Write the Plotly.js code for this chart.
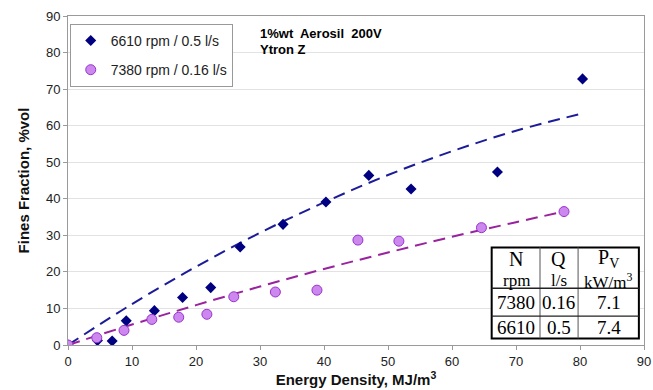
<!DOCTYPE html>
<html>
<head>
<meta charset="utf-8">
<script src="https://cdn.plot.ly/plotly-3.0.1.min.js"></script>
<style>
  html, body { margin: 0; padding: 0; background: #fff; }
  #chart { width: 653px; height: 390px; }
</style>
</head>
<body>
<div id="chart"></div>
<script>
// Measured fines fraction against energy density, two rotor settings
const energy6610 = [0, 4.6, 6.9, 9.1, 13.5, 17.9, 22.3, 26.9, 33.6, 40.3, 47.0, 53.6, 67.1, 80.4];
const fines6610  = [0, 1.2, 1.1, 6.6, 9.4, 13.0, 15.7, 26.8, 33.0, 39.1, 46.4, 42.7, 47.3, 72.8];

const energy7380 = [0, 4.5, 8.75, 13.1, 17.3, 21.7, 25.9, 32.4, 38.9, 45.3, 51.7, 64.6, 77.5];
const fines7380  = [0, 2.0, 4.0, 7.0, 7.6, 8.4, 13.2, 14.5, 15.0, 28.7, 28.4, 32.1, 36.5];

// Trend curves, sampled along the dashed lines
const trendX6610 = [0, 10, 20, 30, 40, 50, 60, 70, 80.5];
const trendY6610 = [0, 11.2, 21.4, 30.7, 39.0, 46.5, 53.0, 58.6, 63.4];
const trendX7380 = [0, 10, 20, 30, 40, 50, 60, 70, 77.5];
const trendY7380 = [0, 5.6, 10.9, 16.0, 20.8, 25.3, 29.6, 33.6, 36.5];

// Operating conditions table
const tableHeader1 = ['N', 'Q', 'P<sub>V</sub>'];
const tableHeader2 = ['rpm', 'l/s', 'kW/m<sup>3</sup>'];
const tableRows = [
  ['7380', '0.16', '7.1'],
  ['6610', '0.5', '7.4']
];

const xTicks = [0, 10, 20, 30, 40, 50, 60, 70, 80, 90];
const yTicks = [0, 10, 20, 30, 40, 50, 60, 70, 80, 90];

const blue = '#000080';
const violetFill = '#cc88ee';
const violetEdge = '#9933cc';
const purpleLine = '#99229f';
const sans = 'Arial, Liberation Sans, sans-serif';

const traces = [
  {
    x: trendX6610, y: trendY6610, mode: 'lines', type: 'scatter',
    line: { color: '#1c1c99', width: 2, dash: '12px,7px', shape: 'spline' },
    showlegend: false, hoverinfo: 'skip'
  },
  {
    x: trendX7380, y: trendY7380, mode: 'lines', type: 'scatter',
    line: { color: purpleLine, width: 2, dash: '12px,7px', shape: 'spline' },
    showlegend: false, hoverinfo: 'skip'
  },
  {
    x: energy6610, y: fines6610, mode: 'markers', type: 'scatter',
    name: '6610 rpm / 0.5 l/s', legendgroup: 'a',
    marker: { symbol: 'diamond', size: 8.5, color: blue }
  },
  {
    x: energy7380, y: fines7380, mode: 'markers', type: 'scatter',
    name: '7380 rpm / 0.16 l/s', legendgroup: 'b',
    marker: { symbol: 'circle', size: 10, color: violetFill, line: { color: violetEdge, width: 1 } }
  }
];

// Table geometry in data units
const tX = [66.2, 73.75, 79.7, 89.2];
const tY = { top: 26.7, head: 15.5, mid: 7.9, bottom: 1.8 };
const colMid = [70.0, 76.7, 84.5];
const serif = 'Liberation Serif, Times New Roman, serif';

const shapes = [
  { type: 'rect', xref: 'x', yref: 'y', x0: tX[0], x1: tX[3], y0: tY.bottom, y1: tY.top,
    fillcolor: '#ffffff', line: { color: '#000', width: 2 }, layer: 'above' },
  { type: 'line', xref: 'x', yref: 'y', x0: tX[1], x1: tX[1], y0: tY.bottom, y1: tY.top,
    line: { color: '#555', width: 1 }, layer: 'above' },
  { type: 'line', xref: 'x', yref: 'y', x0: tX[2], x1: tX[2], y0: tY.bottom, y1: tY.top,
    line: { color: '#555', width: 1 }, layer: 'above' },
  { type: 'line', xref: 'x', yref: 'y', x0: tX[0], x1: tX[3], y0: tY.head, y1: tY.head,
    line: { color: '#222', width: 1.5 }, layer: 'above' },
  { type: 'line', xref: 'x', yref: 'y', x0: tX[0], x1: tX[3], y0: tY.mid, y1: tY.mid,
    line: { color: '#222', width: 1.2 }, layer: 'above' }
];

const annotations = [
  { xref: 'paper', yref: 'paper', x: 0.33, y: 0.948, xanchor: 'left', yanchor: 'middle',
    text: '<b>1%wt  Aerosil  200V</b>', showarrow: false,
    font: { family: sans, size: 13, color: '#000' } },
  { xref: 'paper', yref: 'paper', x: 0.33, y: 0.897, xanchor: 'left', yanchor: 'middle',
    text: '<b>Ytron Z</b>', showarrow: false,
    font: { family: sans, size: 13, color: '#000' } }
];

tableHeader1.forEach((t, i) => annotations.push({
  xref: 'x', yref: 'y', x: colMid[i], y: 23.6, text: t, showarrow: false,
  xanchor: 'center', yanchor: 'middle', font: { family: serif, size: 20, color: '#000' }
}));
tableHeader2.forEach((t, i) => annotations.push({
  xref: 'x', yref: 'y', x: colMid[i], y: 17.6, text: t, showarrow: false,
  xanchor: 'center', yanchor: 'middle', font: { family: serif, size: 17, color: '#000' }
}));
const rowY = [11.5, 4.8];
tableRows.forEach((row, r) => row.forEach((t, i) => annotations.push({
  xref: 'x', yref: 'y', x: colMid[i], y: rowY[r], text: t, showarrow: false,
  xanchor: 'center', yanchor: 'middle', font: { family: serif, size: 19, color: '#000' }
})));

const axisCommon = {
  showline: true, linecolor: '#9a9a9a', linewidth: 1, mirror: true,
  ticks: 'outside', ticklen: 4, tickcolor: '#9a9a9a',
  tickfont: { family: sans, size: 13, color: '#222' },
  zeroline: false
};

const layout = {
  width: 653, height: 390,
  margin: { l: 68, r: 9, t: 16, b: 45 },
  paper_bgcolor: '#fff', plot_bgcolor: '#fff',
  font: { family: sans },
  xaxis: Object.assign({}, axisCommon, {
    range: [0, 90], tickvals: xTicks, showgrid: false,
    title: { text: '<b>Energy Density, MJ/m<sup>3</sup></b>', standoff: 2,
      font: { family: sans, size: 15, color: '#111' } }
  }),
  yaxis: Object.assign({}, axisCommon, {
    range: [0, 90], tickvals: yTicks, showgrid: true, gridcolor: '#e2e2e2', gridwidth: 1,
    title: { text: '<b>Fines Fraction, %vol</b>', standoff: 12,
      font: { family: sans, size: 15, color: '#111' } }
  }),
  legend: {
    x: 0.003, y: 0.976, xanchor: 'left', yanchor: 'top',
    bgcolor: '#fff', bordercolor: '#999', borderwidth: 1,
    traceorder: 'grouped', tracegroupgap: 8, itemwidth: 30,
    font: { family: sans, size: 14, color: '#222' }
  },
  shapes: shapes,
  annotations: annotations,
  showlegend: true
};

Plotly.newPlot('chart', traces, layout, { displayModeBar: false, staticPlot: true });
</script>
</body>
</html>
